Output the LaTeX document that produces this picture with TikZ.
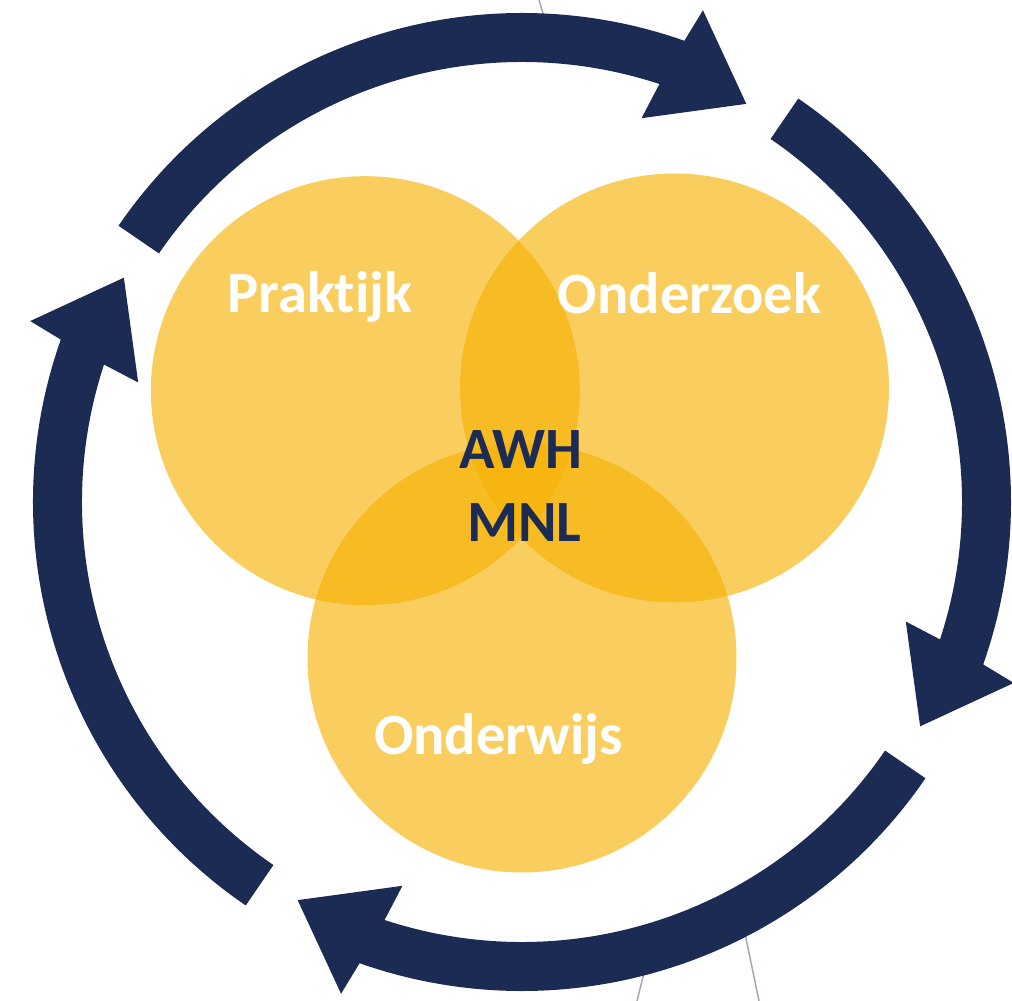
\documentclass[tikz,border=0pt]{standalone}
\usepackage{fontspec}
\setmainfont{Carlito}[Ligatures=NoCommon]
\usepackage{xcolor}
\usepackage{tikz}

\definecolor{ringblue}{HTML}{1B2B54}
\definecolor{venngold}{RGB}{246,177,3}
\definecolor{strayline}{HTML}{A4A8B6}

\begin{document}
\begin{tikzpicture}[x=1pt, y=1pt]
            \tikzstyle{venn} = [circle, minimum size=429pt, inner sep=0pt, fill=venngold, fill opacity=0.64];
            \tikzstyle{field} = [anchor=base, text=white, font=\fontsize{58.5}{72}\selectfont\bfseries];
            \tikzstyle{core} = [anchor=base, text=ringblue, font=\fontsize{58.5}{72}\selectfont\bfseries];
            \tikzstyle{cyclearrow} = [fill=ringblue];
            \tikzstyle{stray} = [draw=strayline, line width=1.5pt];

            \useasboundingbox (-522,-499) rectangle (490,502);

            \coordinate (T0) at (17,502);
            \coordinate (T1) at (26,472);
            \coordinate (B0) at (115,-499);
            \coordinate (B1) at (124,-463);
            \coordinate (C0) at (237,-499);
            \coordinate (C1) at (220,-417);
            \draw [stray] (T0) -- (T1);
            \draw [stray] (B0) -- (B1);
            \draw [stray] (C0) -- (C1);

            \node [venn] (P) at (-156.6,111.3) {};
            \node [venn] (Z) at (152.5,114) {};
            \node [venn] (W) at (0,-156) {};

            \node [field] (Lp) at (-202,189.3) {Praktijk};
            \node [field] (Lz) at (167.6,188) {Onderzoek};
            \node [field] (Lw) at (-23.4,-252) {Onderwijs};

            \node [core] (A1) at (-1,33) {AWH};
            \node [core] (A2) at (2.5,-39) {MNL};

            \foreach \k in {0,...,3}
                \fill [cyclearrow, rotate=-90*\k] (145.6:489)
                    arc [start angle=145.6, end angle=70.6, radius=489]
                    -- (69.8:524) -- (60.6:457) -- (72.7:402) -- (71.8:440)
                    arc [start angle=71.8, end angle=145.6, radius=440] -- cycle;
\end{tikzpicture}
\end{document}
